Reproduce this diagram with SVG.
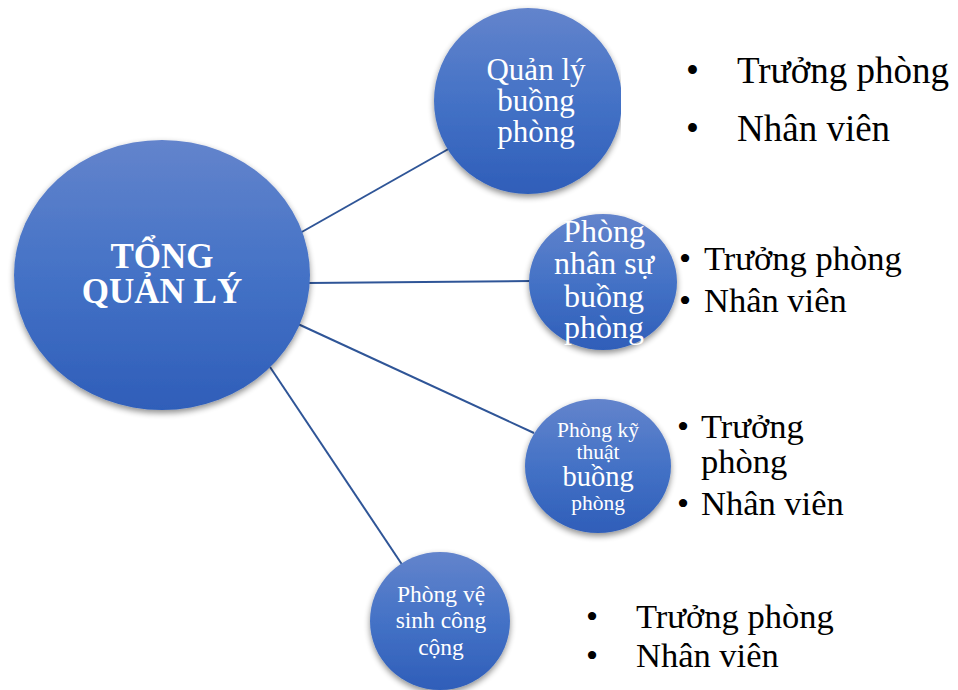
<svg xmlns="http://www.w3.org/2000/svg" width="958" height="690" viewBox="0 0 958 690">
<style>
.node{fill:url(#g);filter:url(#sh)}
text{font-family:"Liberation Serif","Times New Roman",serif}
.wt{fill:#fff;text-anchor:middle}
.bt text{fill:#000}
.con line{stroke:#2F5597;stroke-width:2}
</style>
<defs>
<linearGradient id="g" x1="0" y1="0" x2="0" y2="1">
<stop offset="0" stop-color="#6384CC"/>
<stop offset="0.5" stop-color="#4472C6"/>
<stop offset="1" stop-color="#2F5EB9"/>
</linearGradient>
<filter id="sh" x="-20%" y="-20%" width="140%" height="140%">
<feGaussianBlur in="SourceAlpha" stdDeviation="3"/>
<feOffset dx="0" dy="3" result="b"/>
<feComponentTransfer><feFuncA type="linear" slope="0.45"/></feComponentTransfer>
<feMerge><feMergeNode/><feMergeNode in="SourceGraphic"/></feMerge>
</filter>
<clipPath id="cp1"><rect x="400" y="0" width="221" height="220"/></clipPath>
</defs>
<rect width="958" height="690" fill="#fff"/>
<g class="con">
<line x1="300" y1="233" x2="452" y2="147"/>
<line x1="308" y1="283" x2="531" y2="281"/>
<line x1="298" y1="324" x2="534" y2="433"/>
<line x1="270" y1="367" x2="403" y2="566"/>
</g>
<g id="main">
<ellipse class="node" cx="162" cy="275" rx="148" ry="135"/>
<text class="wt" font-size="35" font-weight="bold"><tspan x="162" y="268">TỔNG</tspan><tspan x="162" y="303">QUẢN LÝ</tspan></text>
</g>
<g id="n1">
<g clip-path="url(#cp1)"><ellipse class="node" cx="528" cy="101" rx="94" ry="93"/></g>
<text class="wt" font-size="31"><tspan x="536" y="80">Quản lý</tspan><tspan x="536" y="111">buồng</tspan><tspan x="536" y="142">phòng</tspan></text>
</g>
<g id="b1" class="bt" font-size="37">
<text x="686" y="83">•</text><text x="737" y="83">Trưởng phòng</text>
<text x="686" y="141">•</text><text x="737" y="141">Nhân viên</text>
</g>
<g id="n2">
<ellipse class="node" cx="603" cy="282" rx="74" ry="68"/>
<text class="wt" font-size="32"><tspan x="604" y="242">Phòng</tspan><tspan x="604" y="274">nhân sự</tspan><tspan x="604" y="307">buồng</tspan><tspan x="604" y="338">phòng</tspan></text>
</g>
<g id="b2" class="bt" font-size="34.5">
<text x="679" y="270">•</text><text x="704" y="270">Trưởng phòng</text>
<text x="679" y="312">•</text><text x="704" y="312">Nhân viên</text>
</g>
<g id="n3">
<ellipse class="node" cx="598" cy="466" rx="73" ry="67"/>
<text class="wt"><tspan x="598" y="437" font-size="21.5">Phòng kỹ</tspan><tspan x="598" y="459" font-size="21.5">thuật</tspan><tspan x="598" y="486" font-size="28.5">buồng</tspan><tspan x="598" y="510" font-size="21.5">phòng</tspan></text>
</g>
<g id="b3" class="bt" font-size="34.5">
<text x="677" y="438">•</text><text x="701" y="438">Trưởng</text>
<text x="701" y="473">phòng</text>
<text x="677" y="515">•</text><text x="701" y="515">Nhân viên</text>
</g>
<g id="n4">
<ellipse class="node" cx="440" cy="621" rx="70" ry="69"/>
<text class="wt" font-size="23.5"><tspan x="441" y="602">Phòng vệ</tspan><tspan x="441" y="628">sinh công</tspan><tspan x="441" y="655">cộng</tspan></text>
</g>
<g id="b4" class="bt" font-size="34.5">
<text x="586" y="628">•</text><text x="636" y="628">Trưởng phòng</text>
<text x="586" y="667">•</text><text x="636" y="667">Nhân viên</text>
</g>
</svg>
